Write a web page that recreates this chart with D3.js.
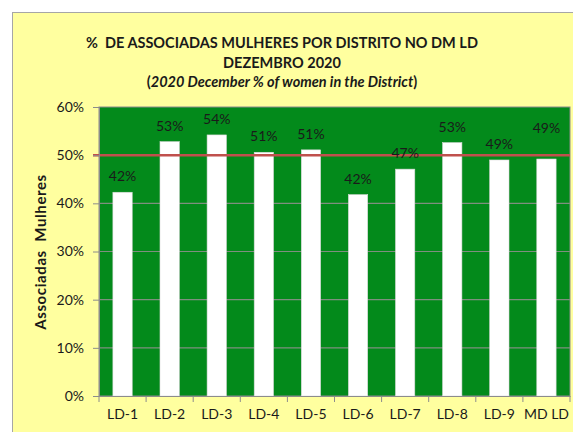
<!DOCTYPE html>
<html>
<head>
<meta charset="utf-8">
<script src="https://cdn.jsdelivr.net/npm/d3@7"></script>
<style>
  body { margin: 0; background: #fff; }
  text { font-family: Lato, "Open Sans", sans-serif; fill: #1a1a1a; white-space: pre; }
</style>
</head>
<body>
<script>
// data
const districts = ["LD-1", "LD-2", "LD-3", "LD-4", "LD-5", "LD-6", "LD-7", "LD-8", "LD-9", "MD LD"]
const womenPct = [42.3, 52.8, 54.2, 50.6, 51.1, 41.8, 47.1, 52.6, 49.0, 49.2]
const pctLabels = ["42%", "53%", "54%", "51%", "51%", "42%", "47%", "53%", "49%", "49%"]
const yTicks = [0, 10, 20, 30, 40, 50, 60]
const target = 50

const w = 573
const h = 432
const plot = { left: 99, right: 570, top: 107, bottom: 396 }

const svg = d3.select("body")
  .append("svg")
  .attr("width", w)
  .attr("height", h)

// chart frame
svg.append("rect")
  .attr("x", 12.5)
  .attr("y", 12.5)
  .attr("width", w)
  .attr("height", h)
  .attr("fill", "#ffff9f")
  .attr("stroke", "#a6a6a6")

const xscale = d3.scaleBand()
  .domain(districts)
  .range([plot.left, plot.right])
  .paddingInner(0.59)
  .paddingOuter(0.295)

const xTickScale = d3.scaleBand()
  .domain(districts)
  .range([plot.left, plot.right])

const yscale = d3.scaleLinear()
  .domain([0, 60])
  .range([plot.bottom, plot.top])

// plot area
svg.append("rect")
  .attr("x", plot.left)
  .attr("y", plot.top)
  .attr("width", plot.right - plot.left)
  .attr("height", plot.bottom - plot.top)
  .attr("fill", "#038a1b")
  .attr("stroke", "#8c8c8c")

// grid lines
svg.append("g")
  .selectAll("line")
  .data(yTicks.slice(1, -1))
  .enter()
  .append("line")
  .attr("x1", plot.left)
  .attr("x2", plot.right)
  .attr("y1", d => yscale(d))
  .attr("y2", d => yscale(d))
  .attr("stroke", "#7f8f7f")
  .attr("stroke-width", 1.2)

// bars
svg.append("g")
  .selectAll("rect")
  .data(womenPct)
  .enter()
  .append("rect")
  .attr("x", (d, i) => xscale(districts[i]))
  .attr("y", d => yscale(d))
  .attr("width", xscale.bandwidth())
  .attr("height", d => plot.bottom - yscale(d))
  .attr("fill", "#ffffff")
  .attr("stroke", "#d9d9d9")
  .attr("stroke-width", 0.6)

// 50% line
svg.append("line")
  .attr("x1", plot.left - 6)
  .attr("x2", plot.right)
  .attr("y1", yscale(target))
  .attr("y2", yscale(target))
  .attr("stroke", "#c0504d")
  .attr("stroke-width", 2.5)

// value labels
svg.append("g")
  .selectAll("text")
  .data(womenPct)
  .enter()
  .append("text")
  .attr("x", (d, i) => xscale(districts[i]) + xscale.bandwidth() / 2)
  .attr("y", (d, i) => yscale(d) - (i === districts.length - 1 ? 26 : 11))
  .attr("text-anchor", "middle")
  .style("font-size", "14px")
  .text((d, i) => pctLabels[i])

// axes
const yAxis = d3.axisLeft(yscale)
  .tickValues(yTicks)
  .tickFormat(d => d + "%")
  .tickSize(6)
  .tickPadding(9)

const ya = svg.append("g")
  .attr("transform", "translate(" + plot.left + ",0)")
  .call(yAxis)
ya.select(".domain").attr("stroke", "#8c8c8c")
ya.selectAll(".tick line").attr("stroke", "#8c8c8c")
ya.selectAll(".tick text").style("font-size", "14px").attr("fill", "#1a1a1a")

const xAxis = d3.axisBottom(xTickScale)
  .tickSize(0)
  .tickPadding(13)

const xa = svg.append("g")
  .attr("transform", "translate(0," + plot.bottom + ")")
  .call(xAxis)
xa.select(".domain").attr("stroke", "#8c8c8c")
xa.selectAll(".tick text").style("font-size", "14px").attr("fill", "#1a1a1a")

// x tick marks between categories
xa.selectAll(".sep")
  .data(districts.concat(["end"]))
  .enter()
  .append("line")
  .attr("x1", (d, i) => plot.left + i * xTickScale.step())
  .attr("x2", (d, i) => plot.left + i * xTickScale.step())
  .attr("y1", 0)
  .attr("y2", 6)
  .attr("stroke", "#8c8c8c")

// titles
const title = svg.append("text")
  .attr("x", 282)
  .attr("text-anchor", "middle")
  .style("font-weight", "bold")
  .style("font-size", "14.5px")

title.append("tspan").attr("x", 282).attr("y", 48).text("%  DE ASSOCIADAS MULHERES POR DISTRITO NO DM LD")
title.append("tspan").attr("x", 282).attr("y", 68).text("DEZEMBRO 2020")
title.append("tspan").attr("x", 282).attr("y", 87)
  .html("(<tspan font-style='italic'>2020 December % of women in the District</tspan>)")

svg.append("text")
  .attr("transform", "translate(46,252) rotate(-90)")
  .attr("text-anchor", "middle")
  .style("font-weight", "bold")
  .style("font-size", "15px")
  .style("letter-spacing", "0.6px")
  .text("Associadas  Mulheres")
</script>
</body>
</html>
